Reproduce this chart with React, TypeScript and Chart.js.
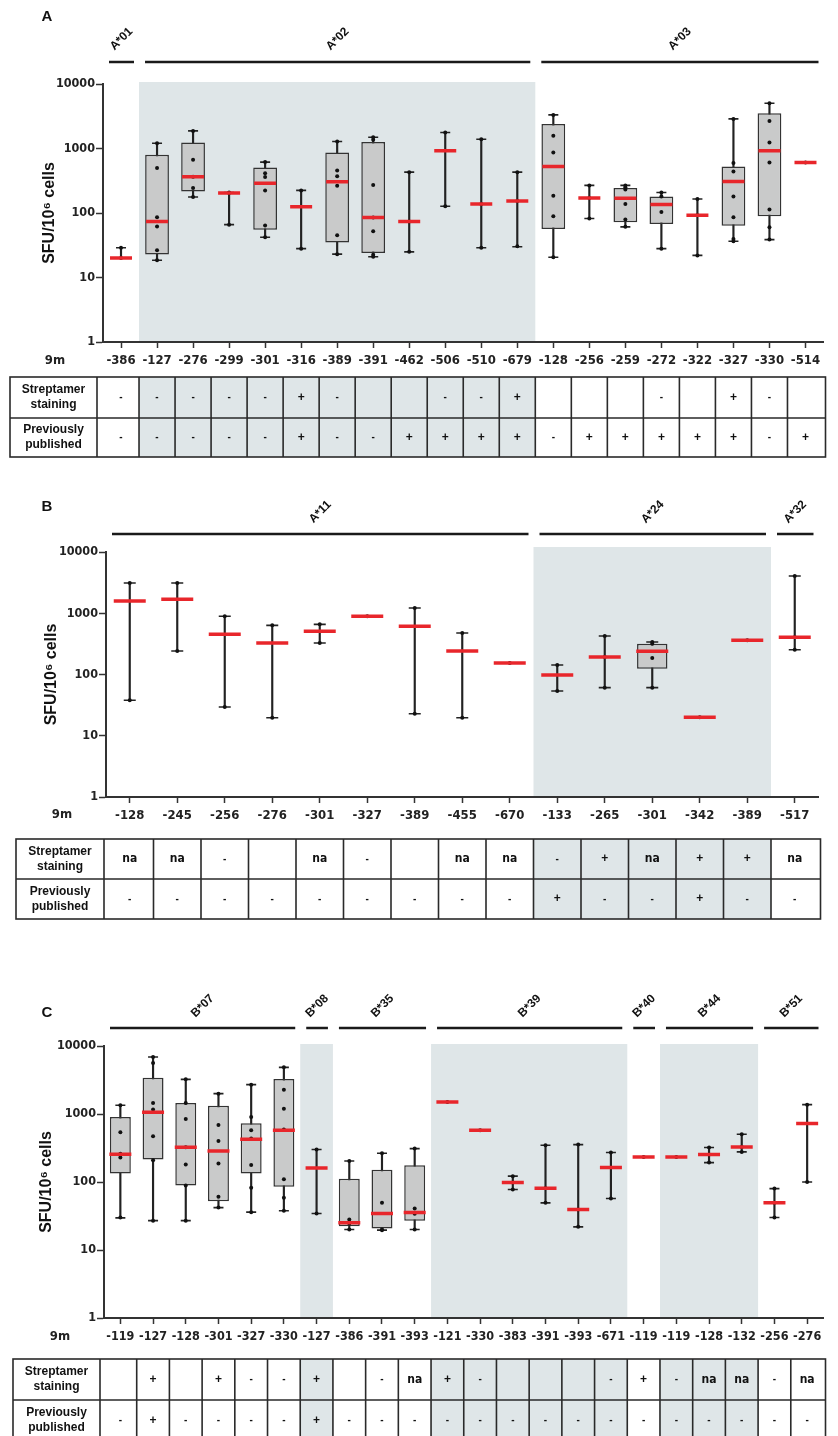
import React, { useEffect, useRef } from 'react';
import { Chart, registerables } from 'chart.js';
Chart.register(...registerables);

// ---------------- Panel A data ----------------
const labelsA = ['-386','-127','-276','-299','-301','-316','-389','-391','-462','-506','-510','-679','-128','-256','-259','-272','-322','-327','-330','-514'];
const minA = [20, 18.5, 177, 66, 42, 28, 23, 21, 25, 127, 29, 30, 20.6, 82, 61, 28, 22, 36.5, 38.7, 608];
const q1A = [null, 22.7, 216, null, 55, null, 35, 24, null, null, null, null, 56.6, null, 71.7, 67.6, null, 63.7, 89, null];
const medA = [20, 74, 365, 204, 288, 125, 305, 85, 74, 920, 138, 153, 527, 171, 169, 135, 92, 309, 920, 608];
const q3A = [null, 798, 1238, null, 508, null, 867, 1256, null, null, null, null, 2405, null, 244, 181, null, 527, 3518, null];
const maxA = [29, 1209, 1876, 208, 615, 224, 1283, 1497, 430, 1767, 1394, 430, 3317, 268, 268, 208, 165, 2876, 5023, 608];
const pointsA = [
  [29, 20], [1209, 497, 86, 62, 26.5, 18.5], [1876, 668, 365, 244, 177], [208, 204, 66],
  [615, 415, 360, 224, 64, 42], [224, 28], [1283, 457, 370, 265, 45, 23], [1497, 1370, 271, 85, 52, 22.5, 21],
  [430, 74, 25], [1767, 127], [1394, 138, 29], [430, 153, 30.5],
  [3317, 1570, 867, 185, 89, 20.6], [268, 171, 82], [268, 250, 232, 138, 79, 61], [208, 181, 104, 28],
  [165, 92, 22], [2876, 594, 441, 181, 86, 39.6, 36.5], [5023, 2679, 1238, 608, 113, 60, 38.7], [608]
];
const streptA = ['-','-','-','-','-','+','-','','','-','-','+','','','','-','','+','-',''];
const prevA = ['-','-','-','-','-','+','-','-','+','+','+','+','-','+','+','+','+','+','-','+'];
const groupsA = [
  { name: 'A*01', from: 0, to: 0, shade: false },
  { name: 'A*02', from: 1, to: 11, shade: true },
  { name: 'A*03', from: 12, to: 19, shade: false },
];

// ---------------- Panel B data ----------------
const labelsB = ['-128','-245','-256','-276','-301','-327','-389','-455','-670','-133','-265','-301','-342','-389','-517'];
const minB = [38, 242, 29.5, 19.7, 327, 891, 22.9, 19.7, 154, 53.8, 61, 61, 20, 361, 254];
const q1B = [null, null, null, null, null, null, null, null, null, null, null, 124.6, null, null, null];
const medB = [1585, 1687, 453, 327, 507, 891, 612, 242, 154, 98, 193, 239, 20, 361, 404];
const q3B = [null, null, null, null, null, null, null, null, null, null, null, 319, null, null, null];
const maxB = [3119, 3119, 891, 635, 659, 891, 1218, 476, 154, 143, 425, 339, 20, 361, 4055];
const pointsB = [
  [3119, 38], [3119, 242], [891, 29.5], [635, 19.7], [659, 327], [891], [1218, 22.9], [476, 19.7], [154],
  [143, 53.8], [425, 193, 61], [339, 319, 186, 61], [20], [361], [4055, 404, 254]
];
const streptB = ['na','na','-','','na','-','','na','na','-','+','na','+','+','na'];
const prevB = ['-','-','-','-','-','-','-','-','-','+','-','-','+','-','-'];
const groupsB = [
  { name: 'A*11', from: 0, to: 8, shade: false },
  { name: 'A*24', from: 9, to: 13, shade: true },
  { name: 'A*32', from: 14, to: 14, shade: false },
];

// ---------------- Panel C data ----------------
const labelsC = ['-119','-127','-128','-301','-327','-330','-127','-386','-391','-393','-121','-330','-383','-391','-393','-671','-119','-119','-128','-132','-256','-276'];
const minC = [29.7, 27, 27, 42, 36, 37.7, 34.4, 20, 19.6, 20, 1503, 576, 77.5, 49.4, 21.9, 57.2, 234, 234, 193, 277, 30, 100];
const q1C = [133, 214, 88.8, 52, 133, 85, null, 22.4, 20.7, 27, null, null, null, null, null, null, null, null, null, null, null, null];
const medC = [256, 1059, 324, 286, 425, 576, 161, 25.1, 34.4, 35.6, 1503, 576, 98, 81, 39.4, 163, 234, 234, 253, 328, 49.4, 722];
const q3C = [904, 3420, 1452, 1327, 730, 3270, null, 112, 152, 177, null, null, null, null, null, null, null, null, null, null, null, null];
const maxC = [1342, 6877, 3234, 1991, 2700, 4852, 300, 204, 265, 310, 1503, 576, 122, 347, 355, 271, 234, 234, 321, 504, 80, 1372];
const pointsC = [
  [1342, 538, 260, 229, 30], [6877, 5613, 1452, 1160, 471, 209, 27], [3234, 1452, 846, 324, 181, 89, 27],
  [1991, 690, 402, 187, 60.5, 42], [2700, 904, 576, 435, 178, 82, 36], [4852, 2279, 1199, 590, 110, 58.5, 37.7],
  [300, 34.4], [204, 28, 24.6, 20], [265, 49.4, 20, 19.6], [310, 40.6, 34, 20],
  [1503], [576], [122, 98, 77.5], [347, 81, 49.4], [355, 39.4, 21.9], [271, 57.2],
  [234], [234], [321, 253, 193], [504, 328, 277], [80, 49.4, 30], [1372, 100]
];
const streptC = ['','+','','+','-','-','+','','-','na','+','-','','','','-','+','-','na','na','-','na'];
const prevC = ['-','+','-','-','-','-','+','-','-','-','-','-','-','-','-','-','-','-','-','-','-','-'];
const groupsC = [
  { name: 'B*07', from: 0, to: 5, shade: false },
  { name: 'B*08', from: 6, to: 6, shade: true },
  { name: 'B*35', from: 7, to: 9, shade: false },
  { name: 'B*39', from: 10, to: 15, shade: true },
  { name: 'B*40', from: 16, to: 16, shade: false },
  { name: 'B*44', from: 17, to: 19, shade: true },
  { name: 'B*51', from: 20, to: 21, shade: false },
];

const yTicks = [1, 10, 100, 1000, 10000];

const NARROW = "'Liberation Sans Narrow', 'Arial Narrow', 'DejaVu Sans Condensed', sans-serif";
const SANS = "'Liberation Sans', Arial, 'DejaVu Sans', sans-serif";
const SHADE = '#dfe6e8';
const INK = '#222';
const RED = '#e8262b';

type Group = { name: string; from: number; to: number; shade: boolean };
type PanelData = {
  letter: string; labels: string[]; min: number[]; q1: (number | null)[]; med: number[];
  q3: (number | null)[]; max: number[]; points: number[][]; strept: string[]; prev: string[]; groups: Group[];
};
type Layout = {
  top: number; height: number; padL: number; yW: number; padR: number; padT: number; padB: number;
  medR: number; capR: number; boxPct: number; headerY: number; labelDy: number; letterPos: [number, number];
  nineM: [number, number]; tickSize: number; shadeAbove: number;
  table: { top: number; mid: number; bottom: number; left: number; labelRight: number };
};

const panels: { data: PanelData; layout: Layout }[] = [
  {
    data: { letter: 'A', labels: labelsA, min: minA, q1: q1A, med: medA, q3: q3A, max: maxA, points: pointsA, strept: streptA, prev: prevA, groups: groupsA },
    layout: { top: 0, height: 470, padL: 40, yW: 63, padR: 10, padT: 84, padB: 98, medR: 11, capR: 5, boxPct: 0.66, headerY: 62, labelDy: 23, letterPos: [47, 17], nineM: [55, 361], tickSize: 13, shadeAbove: 2, table: { top: 377, mid: 418, bottom: 457, left: 10, labelRight: 97 } },
  },
  {
    data: { letter: 'B', labels: labelsB, min: minB, q1: q1B, med: medB, q3: q3B, max: maxB, points: pointsB, strept: streptB, prev: prevB, groups: groupsB },
    layout: { top: 470, height: 480, padL: 42, yW: 64, padR: 4, padT: 82, padB: 123, medR: 16, capR: 6, boxPct: 0.64, headerY: 64, labelDy: 22, letterPos: [47, 37], nineM: [62, 345], tickSize: 13, shadeAbove: 5, table: { top: 369, mid: 409, bottom: 449, left: 16, labelRight: 104 } },
  },
  {
    data: { letter: 'C', labels: labelsC, min: minC, q1: q1C, med: medC, q3: q3C, max: maxC, points: pointsC, strept: streptC, prev: prevC, groups: groupsC },
    layout: { top: 950, height: 486, padL: 37, yW: 67, padR: 6, padT: 96, padB: 88, medR: 11, capR: 5, boxPct: 0.64, headerY: 78, labelDy: 22, letterPos: [47, 63], nineM: [60, 387], tickSize: 12.5, shadeAbove: 2, table: { top: 409, mid: 450, bottom: 491, left: 13, labelRight: 100 } },
  },
];

function buildChart(canvas: HTMLCanvasElement, d: PanelData, L: Layout) {
  const n = d.labels.length;
  const maxDots = Math.max(...d.points.map((a) => a.length));
  const dotSets: any[] = [];
  for (let k = 0; k < maxDots; k++) {
    dotSets.push({
      type: 'line', data: d.points.map((a) => (a[k] === undefined ? null : a[k])), showLine: false,
      pointStyle: 'circle', pointRadius: 2, pointBackgroundColor: '#111', pointBorderWidth: 0, order: 1,
    });
  }
  const datasets: any[] = [
    { type: 'line', data: d.med, showLine: false, pointStyle: 'line', pointRadius: L.medR, pointBorderColor: RED, pointBorderWidth: 3.5, order: 0 },
    ...dotSets,
    { type: 'line', data: d.max, showLine: false, pointStyle: 'line', pointRadius: L.capR, pointBorderColor: INK, pointBorderWidth: 1.6, order: 2 },
    { type: 'line', data: d.min, showLine: false, pointStyle: 'line', pointRadius: L.capR, pointBorderColor: INK, pointBorderWidth: 1.6, order: 2 },
    {
      type: 'bar', data: d.q1.map((v, i) => (v === null ? null : [v, d.q3[i]])), backgroundColor: '#c9caca',
      borderColor: '#333', borderWidth: 1.5, borderSkipped: false, barPercentage: L.boxPct, categoryPercentage: 1, grouped: false, order: 3,
    },
    { type: 'bar', data: d.min.map((v, i) => [v, d.max[i]]), backgroundColor: INK, barThickness: 1.5, grouped: false, order: 4 },
  ];

  const colBounds = (chart: any, i: number) => {
    const xs = chart.scales.x;
    const half = (xs.getPixelForValue(1) - xs.getPixelForValue(0)) / 2;
    const c = xs.getPixelForValue(i);
    return [c - half, c + half, c];
  };

  const deco = {
    id: 'deco' + d.letter,
    beforeDatasetsDraw(chart: any) {
      const ctx = chart.ctx;
      const area = chart.chartArea;
      ctx.save();
      ctx.fillStyle = SHADE;
      d.groups.forEach((g) => {
        if (!g.shade) return;
        const l = colBounds(chart, g.from)[0];
        const r = colBounds(chart, g.to)[1];
        ctx.fillRect(l, area.top - L.shadeAbove, r - l, area.bottom - area.top + L.shadeAbove - 1);
      });
      ctx.restore();
    },
    afterDraw(chart: any) {
      const ctx = chart.ctx;
      ctx.save();
      ctx.fillStyle = '#111';
      ctx.font = `bold 15px ${SANS}`;
      ctx.textAlign = 'center';
      ctx.textBaseline = 'middle';
      ctx.fillText(d.letter, L.letterPos[0], L.letterPos[1]);
      d.groups.forEach((g) => {
        const l = colBounds(chart, g.from)[0] + 6;
        const r = colBounds(chart, g.to)[1] - 5;
        ctx.strokeStyle = '#1a1a1a';
        ctx.lineWidth = 2.5;
        ctx.beginPath();
        ctx.moveTo(l, L.headerY);
        ctx.lineTo(r, L.headerY);
        ctx.stroke();
        ctx.save();
        ctx.translate((l + r) / 2, L.headerY - L.labelDy);
        ctx.rotate(-Math.PI / 4);
        ctx.font = `bold 12px ${SANS}`;
        ctx.fillStyle = '#111';
        ctx.fillText(g.name, 0, 0);
        ctx.restore();
      });
      ctx.font = `bold 13px ${NARROW}`;
      ctx.fillStyle = INK;
      ctx.fillText('9m', L.nineM[0], L.nineM[1]);
      const T = L.table;
      const lastR = colBounds(chart, n - 1)[1] + 2;
      ctx.fillStyle = SHADE;
      d.groups.forEach((g) => {
        if (!g.shade) return;
        const l = colBounds(chart, g.from)[0];
        const r = colBounds(chart, g.to)[1];
        ctx.fillRect(l, T.top, r - l, T.bottom - T.top);
      });
      ctx.strokeStyle = '#2a2a2a';
      ctx.lineWidth = 1.6;
      ctx.strokeRect(T.left, T.top, lastR - T.left, T.bottom - T.top);
      ctx.beginPath();
      ctx.moveTo(T.left, T.mid);
      ctx.lineTo(lastR, T.mid);
      ctx.moveTo(T.labelRight, T.top);
      ctx.lineTo(T.labelRight, T.bottom);
      for (let i = 0; i < n - 1; i++) {
        const x = colBounds(chart, i)[1];
        ctx.moveTo(x, T.top);
        ctx.lineTo(x, T.bottom);
      }
      ctx.stroke();
      ctx.fillStyle = '#111';
      ctx.font = `bold 12px ${SANS}`;
      const lc = (T.left + T.labelRight) / 2;
      const r1 = (T.top + T.mid) / 2;
      const r2 = (T.mid + T.bottom) / 2;
      ctx.fillText('Streptamer', lc, r1 - 7.5);
      ctx.fillText('staining', lc, r1 + 7.5);
      ctx.fillText('Previously', lc, r2 - 7.5);
      ctx.fillText('published', lc, r2 + 7.5);
      const drawSym = (s: string, x: number, y: number) => {
        if (!s) return;
        if (s === '-') ctx.font = `bold 10px ${SANS}`;
        else if (s === '+') ctx.font = `bold 12px ${SANS}`;
        else ctx.font = `bold 12px ${NARROW}`;
        ctx.fillText(s, x, y);
      };
      for (let i = 0; i < n; i++) {
        const c = colBounds(chart, i)[2];
        drawSym(d.strept[i], c, r1);
        drawSym(d.prev[i], c, r2);
      }
      ctx.restore();
    },
  };

  return new Chart(canvas, {
    type: 'bar',
    data: { labels: d.labels, datasets },
    options: {
      responsive: false,
      animation: false,
      devicePixelRatio: 1,
      layout: { padding: { left: L.padL, right: L.padR, top: L.padT, bottom: L.padB } },
      plugins: { legend: { display: false }, tooltip: { enabled: false } },
      scales: {
        x: {
          type: 'category', offset: true,
          grid: { display: true, drawOnChartArea: false, drawTicks: true, tickLength: 6, tickWidth: 1.5, tickColor: '#333', offset: false },
          border: { display: true, color: '#333', width: 2 },
          ticks: { autoSkip: false, maxRotation: 0, minRotation: 0, padding: 5, color: INK, font: { family: NARROW, size: L.tickSize, weight: 'bold' } },
          afterFit: (s: any) => { s.height = 30; },
        },
        y: {
          type: 'logarithmic', min: 1, max: 10000,
          afterBuildTicks: (s: any) => { s.ticks = yTicks.map((v) => ({ value: v })); },
          ticks: { callback: (v: any) => String(v), padding: 1, color: INK, font: { family: NARROW, size: 12.5, weight: 'bold' } },
          grid: { display: true, drawOnChartArea: false, drawTicks: true, tickLength: 7, tickWidth: 1.5, tickColor: '#333' },
          border: { display: true, color: '#333', width: 2 },
          title: { display: true, text: 'SFU/10⁶ cells', color: '#111', padding: 0, font: { family: SANS, size: 16, weight: 'bold' } },
          afterFit: (s: any) => { s.width = L.yW; },
        },
      },
    } as any,
    plugins: [deco],
  });
}

function Panel({ data, layout }: { data: PanelData; layout: Layout }) {
  const ref = useRef<HTMLCanvasElement | null>(null);
  useEffect(() => {
    if (!ref.current) return;
    const chart = buildChart(ref.current, data, layout);
    return () => chart.destroy();
  }, [data, layout]);
  return (
    <canvas
      ref={ref}
      width={838}
      height={layout.height}
      style={{ position: 'absolute', left: 0, top: layout.top, width: 838, height: layout.height, display: 'block' }}
    />
  );
}

export default function App() {
  return (
    <div style={{ position: 'absolute', left: 0, top: 0, width: 838, height: 1436, background: '#fff', overflow: 'hidden' }}>
      {panels.map((p, i) => (
        <Panel key={i} data={p.data} layout={p.layout} />
      ))}
    </div>
  );
}
